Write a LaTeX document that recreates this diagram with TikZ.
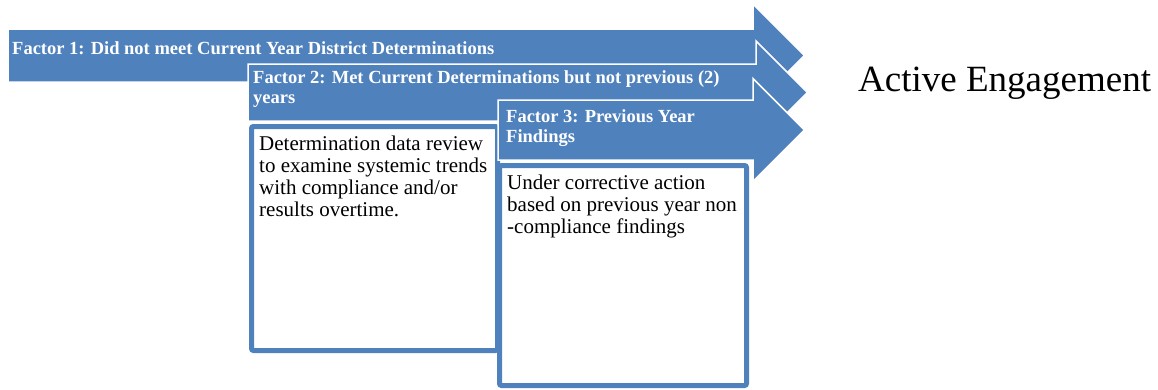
\documentclass[tikz,border=0pt]{standalone}
\usepackage{fontspec}
\setmainfont{Liberation Serif}
\usepackage{tikz}
\definecolor{accent}{RGB}{79,129,189}
\newcommand{\drawarrow}{\filldraw[fill=accent,draw=white,line width=1.5pt]}
\newcommand{\drawbox}{\filldraw[fill=white,draw=accent,line width=5pt,rounded corners=2pt]}
\tikzset{
  factor/.style={anchor=base west,inner sep=0pt,text=white,align=left,font=\fontsize{18.5}{20}\selectfont\bfseries},
  detail/.style={anchor=base west,inner sep=0pt,align=left,font=\fontsize{21}{21.9}\selectfont},
}

\begin{document}
\begin{tikzpicture}[x=1pt,y=-1pt]
\useasboundingbox (0,0) rectangle (1158,389);
\drawarrow (8,29)--++(745,0)--++(0,-25)--++(51.5,51.5)--++(-51.5,51.5)--++(0,-25)--++(-745,0)--cycle;
    \drawarrow (248,64)--++(508,0)--++(0,-23)--++(51.5,51.5)--++(-51.5,51.5)--++(0,-23)--++(-508,0)--cycle;
    \drawbox (251.5,126.5) rectangle (497.5,350.5);
    \drawarrow (498,100)--++(255,0)--++(0,-21.5)--++(51.5,51.5)--++(-51.5,51.5)--++(0,-21.5)--++(-255,0)--cycle;
    \drawbox (499.5,165.5) rectangle (746.5,385.5);
% multi-line nodes sit on the baseline of their last line
\node[factor] (factorone) at (12,54.5) {Factor 1: Did not meet Current Year District Determinations};
\node[factor] (factortwo) at (253,103) {Factor 2: Met Current Determinations but not previous (2)\\years};
\node[factor] (factorthree) at (506,142) {Factor 3: Previous Year\\Findings};
\node[detail] (reviewtext) at (259,216.5) {Determination data review\\to examine systemic trends\\with compliance and/or\\results overtime.};
\node[detail] (correcttext) at (507,233.5) {Under corrective action\\based on previous year non\\-compliance findings};
\node[anchor=base west,inner sep=0pt,font=\fontsize{37}{40}\selectfont] (engagement) at (858,91.7) {Active Engagement};
\end{tikzpicture}
\end{document}
